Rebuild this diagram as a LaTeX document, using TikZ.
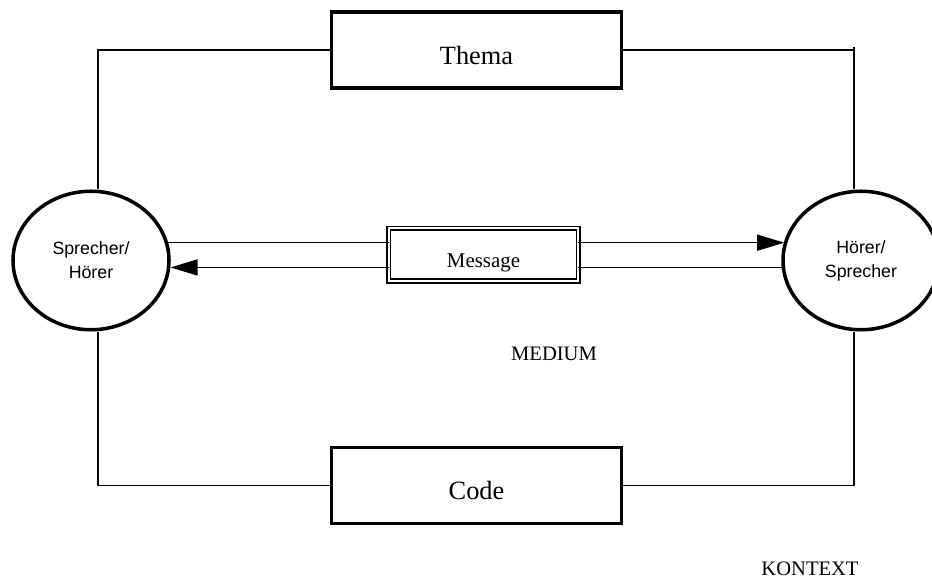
\documentclass[tikz,border=0pt]{standalone}
\usepackage{fontspec}
\setmainfont{Liberation Serif}
\newfontfamily\arialfont{Liberation Sans}
\usetikzlibrary{arrows.meta, shapes.geometric}

\begin{document}
\begin{tikzpicture}[line width=0.8pt,
    topicbox/.style={draw, line width=2pt, inner sep=0pt, minimum width=5.8cm, minimum height=1.52cm,
      text height=0.57cm, text depth=0pt, font=\fontsize{15}{18}\selectfont},
    talker/.style={draw, ellipse, line width=2pt, inner sep=0pt, minimum width=3.12cm, minimum height=2.77cm,
      align=center, font=\arialfont\fontsize{10.1}{13.6}\selectfont},
    msgbox/.style={draw, double, line width=1pt, double distance=1.1pt, inner sep=0pt, outer sep=0pt,
      minimum width=3.79cm, minimum height=1.05cm, text height=0.5cm, text depth=0pt, font=\fontsize{11.9}{14}\selectfont},
    sendarrow/.style={-{Triangle[length=0.54cm, width=0.32cm]}}]
  \useasboundingbox (0, 0) rectangle (18.64, -11.56);

  \node[topicbox] (thema) at (9.53, -1.0) {Thema};
  \node[topicbox] (code)  at (9.53, -9.71) {Code};
  \node[msgbox]   (msg)   at (9.67, -5.093) {Message};
  \node[talker]   (spL)   at (1.82, -5.21) {Sprecher/\\Hörer};
  \node[talker]   (spR)   at (17.22, -5.21) {Hörer/\\Sprecher};
  \node[font=\fontsize{11.7}{14}\selectfont] (medium)  at (11.08, -7.08) {MEDIUM};
  \node[font=\fontsize{11.7}{14}\selectfont] (kontext) at (16.2, -11.38) {KONTEXT};

  \coordinate (lx) at (1.96, 0);
  \coordinate (rx) at (17.08, 0);

  % Kontext-Rahmen
  \draw (thema.west) -| (lx |- spL.north);
  \draw (code.west) -| (lx |- spL.south);
  \draw (thema.east) -- (thema.east -| rx);
  \draw ([yshift=0.05cm]thema.east -| rx) -- (rx |- spR.north);
  \draw (code.east) -| (rx |- spR.south);

  % Kanal
  \draw (spL.13.5) -- (spL.13.5 -| msg.west);
  \draw[sendarrow] (msg.east |- spL.13.5) -- (spR.166.5 |- spL.13.5);
  \draw (spR.-175.3) -- (spR.-175.3 -| msg.east);
  \draw[sendarrow] (msg.west |- spR.-175.3) -- (spL.-4.7 |- spR.-175.3);
\end{tikzpicture}
\end{document}
